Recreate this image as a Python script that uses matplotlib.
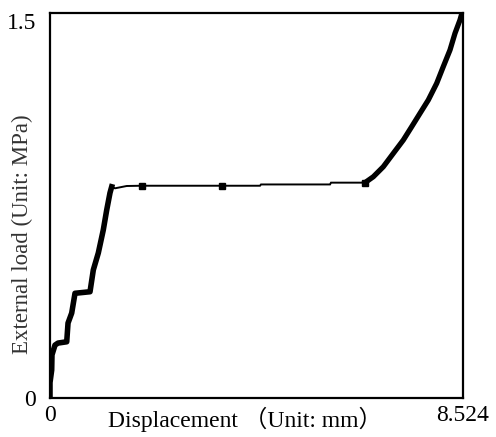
import matplotlib as mpl
mpl.use('Agg')
import matplotlib.pyplot as plt
import numpy as np

# load-displacement curve
disp = [0.0, 0.000, 0.035, 0.041, 0.103, 0.165, 0.345, 0.372, 0.448, 0.516,
        0.826, 0.894, 0.997, 1.100, 1.170, 1.238, 1.273,
        1.342, 1.583, 1.893, 3.544, 4.334, 4.355, 5.779, 5.800,
        6.501, 6.673, 6.879, 7.085, 7.292, 7.465, 7.636, 7.808, 7.981,
        8.117, 8.256, 8.359, 8.462, 8.503]
load = [0.0, 0.060, 0.109, 0.168, 0.206, 0.214, 0.219, 0.292, 0.331, 0.408,
        0.414, 0.499, 0.565, 0.655, 0.732, 0.799, 0.823,
        0.817, 0.826, 0.827, 0.827, 0.827, 0.832, 0.832, 0.839,
        0.839, 0.862, 0.901, 0.953, 1.005, 1.057, 1.109, 1.161, 1.226,
        1.291, 1.356, 1.421, 1.473, 1.500]
# points shown with square markers on the flat stretch
mark_x = [1.893, 3.544, 6.501]
mark_y = [0.827, 0.827, 0.839]

x_max = 8.524
y_max = 1.5

plt.rcParams['font.family'] = ['Liberation Serif', 'Noto Sans CJK SC']

fig = plt.figure(figsize=(4.96, 4.37), dpi=100)
ax = fig.add_axes([50 / 496., 1 - 398 / 437., 413 / 496., 385 / 437.])

x = np.array(disp)
y = np.array(load)
ax.plot(x, y, color='black', lw=1.4, solid_joinstyle='miter')
# the rising branches are drawn heavy in the original
ax.plot(x[:17], y[:17], color='black', lw=4.0)
ax.plot(x[25:], y[25:], color='black', lw=3.8)
ax.plot(mark_x, mark_y, 's', color='black', ms=4)

ax.set_xlim(0, x_max)
ax.set_ylim(0, y_max)
ax.set_xticks([0, x_max])
ax.set_xticklabels(['0', '8.524'])
ax.set_yticks([0, y_max])
ax.set_yticklabels(['0', '1.5'])
ax.tick_params(length=0, labelsize=17)
ax.tick_params(axis='x', pad=5)
ax.tick_params(axis='y', pad=10)
ax.get_yticklabels()[1].set_va('top')
ax.get_xticklabels()[0].set_x(-0.05)
for s in ax.spines.values():
    s.set_linewidth(1.6)

fig.text(245 / 496., 1 - 419 / 437., 'Displacement （Unit: mm）', ha='center',
         va='center', fontsize=17)
fig.text(22 / 496., 1 - 234 / 437., 'External load (Unit: MPa)', ha='center',
         va='center', rotation=90, fontsize=16.5, color='#333333')

fig.savefig('out.png', dpi=100)
